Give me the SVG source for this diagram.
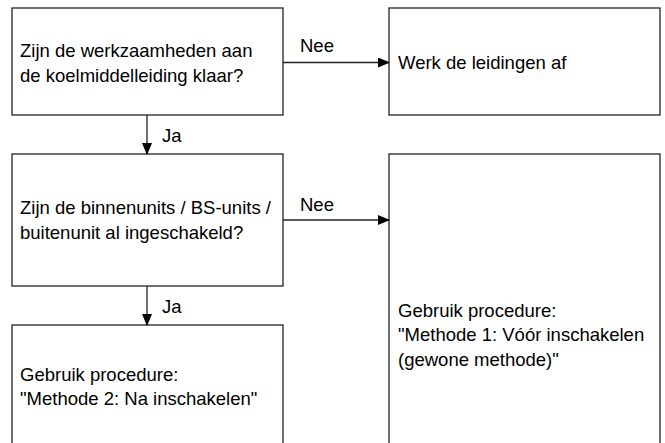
<svg xmlns="http://www.w3.org/2000/svg" width="665" height="443" viewBox="0 0 665 443">
<defs>
<marker id="arr" markerWidth="12" markerHeight="10" refX="11" refY="5" orient="auto" markerUnits="userSpaceOnUse">
<path d="M0,0 L12,5 L0,10 Z" fill="#000"/>
</marker>
<style>
.box{fill:#fff;stroke:#222;stroke-width:1.3}
.t{font-family:"Liberation Sans",Arial,sans-serif;font-size:18.5px;fill:#000}
.c{stroke:#222;stroke-width:1.3;fill:none;marker-end:url(#arr)}
</style>
</defs>
<rect width="665" height="443" fill="#fff"/>
<g id="q1">
<rect class="box" x="12" y="8" width="271" height="107"/>
<text class="t" x="20" y="57">Zijn de werkzaamheden aan</text>
<text class="t" x="20" y="81.5">de koelmiddelleiding klaar?</text>
</g>
<g id="werk">
<rect class="box" x="389" y="8" width="271" height="107"/>
<text class="t" x="398" y="69">Werk de leidingen af</text>
</g>
<g id="q2">
<rect class="box" x="12" y="154" width="271" height="132"/>
<text class="t" x="20" y="214">Zijn de binnenunits / BS-units /</text>
<text class="t" x="20" y="239">buitenunit al ingeschakeld?</text>
</g>
<g id="m1">
<rect class="box" x="389" y="154" width="271" height="300"/>
<text class="t" x="398" y="316.5">Gebruik procedure:</text>
<text class="t" x="398" y="341">"Methode 1: Vóór inschakelen</text>
<text class="t" x="398" y="366">(gewone methode)"</text>
</g>
<g id="m2">
<rect class="box" x="12" y="325" width="271" height="130"/>
<text class="t" x="20" y="380.5">Gebruik procedure:</text>
<text class="t" x="20" y="405">"Methode 2: Na inschakelen"</text>
</g>
<g id="connectors">
<line class="c" x1="283" y1="62.5" x2="389" y2="62.5"/>
<text class="t" x="300" y="51.5">Nee</text>
<line class="c" x1="147" y1="115" x2="147" y2="154"/>
<text class="t" x="162" y="141.5">Ja</text>
<line class="c" x1="283" y1="220" x2="389" y2="220"/>
<text class="t" x="300" y="211">Nee</text>
<line class="c" x1="147" y1="286" x2="147" y2="325"/>
<text class="t" x="162" y="313">Ja</text>
</g>
</svg>
